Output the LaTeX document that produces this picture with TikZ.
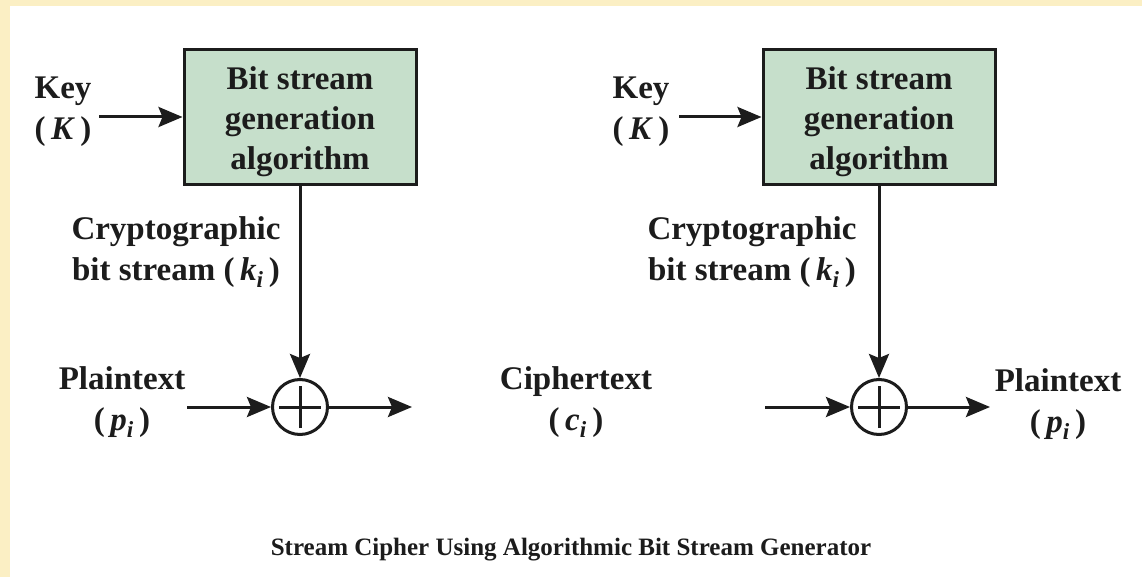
\documentclass[tikz,border=0pt]{standalone}
\usepackage{fontspec}
\setmainfont{Liberation Serif}
\usetikzlibrary{arrows.meta}
\definecolor{cream}{HTML}{FBEFC4}
\definecolor{boxgreen}{HTML}{C6DFCB}
\definecolor{ink}{HTML}{1C1C1C}
\tikzset{
  lbl/.style={text=ink, font=\fontsize{33}{41}\selectfont\bfseries, align=center, inner sep=0pt},
  genbox/.style={draw=ink, line width=3pt, fill=boxgreen, minimum width=232pt, minimum height=135pt, inner sep=0pt},
  boxtxt/.style={text=ink, font=\fontsize{33}{40}\selectfont\bfseries, align=center, inner sep=0pt},
  xorc/.style={draw=ink, line width=3pt, circle, minimum size=55pt, inner sep=0pt},
  arr/.style={draw=ink, line width=3pt, -{Stealth[length=24pt,width=20pt,inset=4pt]}},
  plusln/.style={draw=ink, line width=3pt},
}
\newcommand{\sub}[2]{\textit{#1}\textsubscript{\textit{#2}}}
\begin{document}
\begin{tikzpicture}[x=1pt,y=-1pt]
\useasboundingbox (0,0) rectangle (1142,577);
\fill[cream] (0,0) rectangle (1142,577);
\fill[white] (10,6) rectangle (1142,577);

% ---------- left half ----------
\node[genbox] (g1) at (300,117) {};
\node[boxtxt] (g1t) at (300,122) {Bit stream\\generation\\algorithm};
\node[lbl] (k1) at (63,112) {Key\\(\,\textit{K}\,)};
\coordinate (k1a) at (99,117);
\draw[arr] (k1a) -- (k1a -| g1.west);
\node[lbl] (cb1) at (176,252) {Cryptographic\\bit stream (\,\sub{k}{i}\,)};
\node[xorc] (x1) at (300,407) {};
\draw[plusln] ([yshift=-21pt]x1.center) -- ([yshift=21pt]x1.center);
\draw[plusln] ([xshift=-21pt]x1.center) -- ([xshift=21pt]x1.center);
\draw[arr] (g1.south) -- (x1.north);
\node[lbl] (pt1) at (122,402) {Plaintext\\(\,\sub{p}{i}\,)};
\coordinate (p1a) at (187,407);
\draw[arr] (p1a) -- (x1.west);
\coordinate (o1) at (412,407);
\draw[arr] (x1.east) -- (o1);

% ---------- middle ----------
\node[lbl] (ct) at (576,402) {Ciphertext\\(\,\sub{c}{i}\,)};

% ---------- right half ----------
\node[genbox] (g2) at (879,117) {};
\node[boxtxt] (g2t) at (879,122) {Bit stream\\generation\\algorithm};
\node[lbl] (k2) at (641,112) {Key\\(\,\textit{K}\,)};
\coordinate (k2a) at (679,117);
\draw[arr] (k2a) -- (k2a -| g2.west);
\node[lbl] (cb2) at (752,252) {Cryptographic\\bit stream (\,\sub{k}{i}\,)};
\node[xorc] (x2) at (879,407) {};
\draw[plusln] ([yshift=-21pt]x2.center) -- ([yshift=21pt]x2.center);
\draw[plusln] ([xshift=-21pt]x2.center) -- ([xshift=21pt]x2.center);
\draw[arr] (g2.south) -- (x2.north);
\coordinate (c2a) at (765,407);
\draw[arr] (c2a) -- (x2.west);
\coordinate (o2) at (990,407);
\draw[arr] (x2.east) -- (o2);
\node[lbl] (pt2) at (1058,404) {Plaintext\\(\,\sub{p}{i}\,)};

% ---------- caption ----------
\node[lbl, font=\fontsize{25}{29}\selectfont\bfseries] (cap) at (571,550) {Stream Cipher Using Algorithmic Bit Stream Generator};
\end{tikzpicture}
\end{document}
